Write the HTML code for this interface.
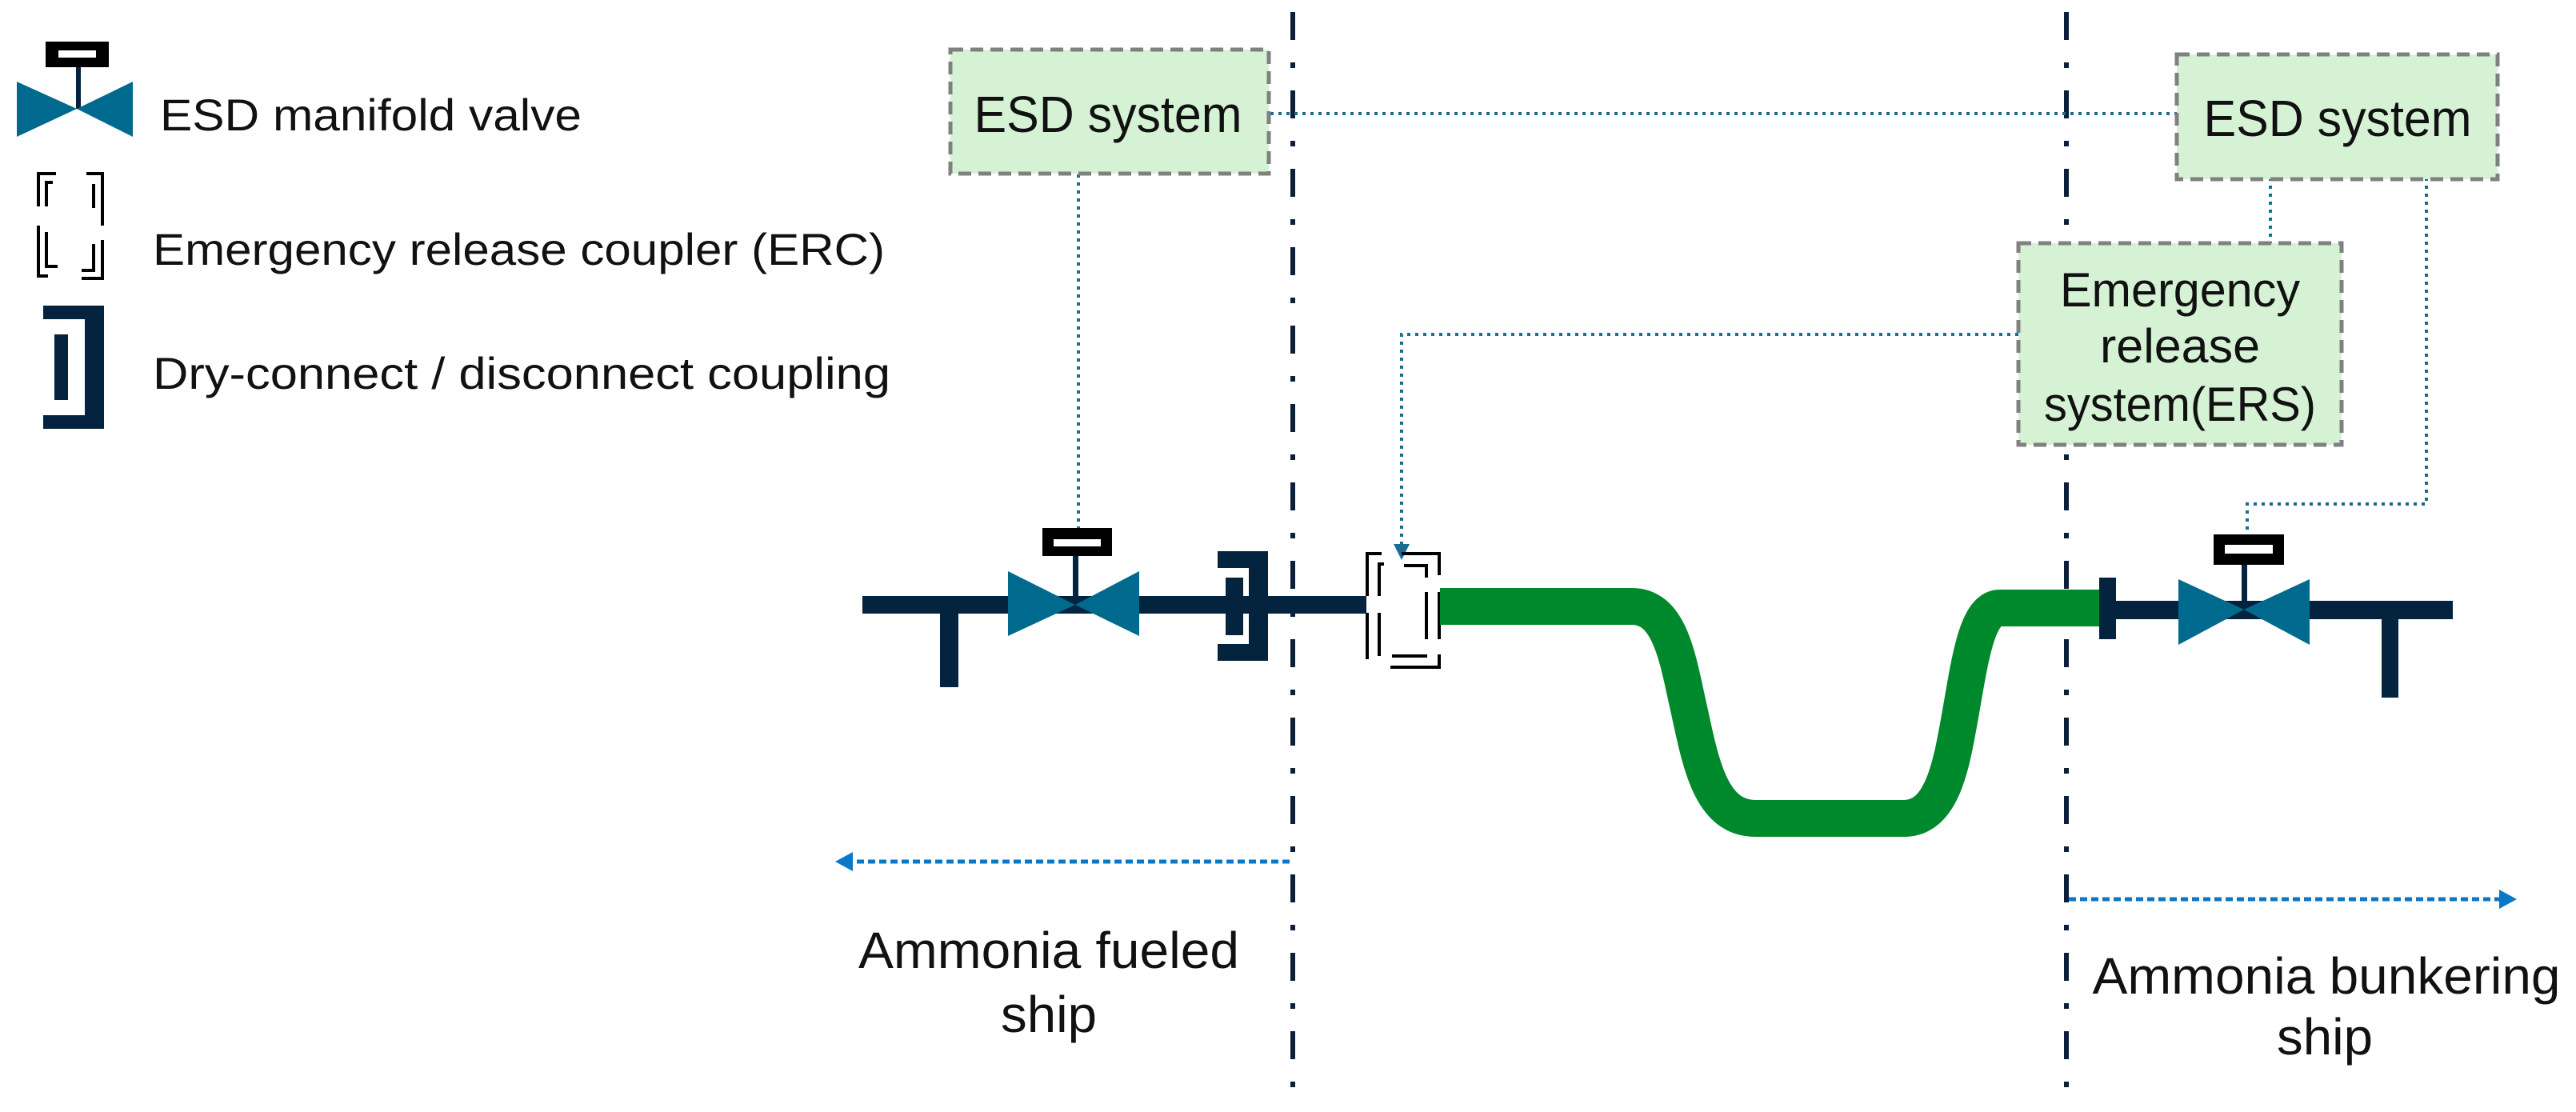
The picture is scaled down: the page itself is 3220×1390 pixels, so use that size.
<!DOCTYPE html>
<html><head><meta charset="utf-8"><style>
html,body{margin:0;padding:0;background:#fff;}
svg{display:block;}
text{font-family:"Liberation Sans",sans-serif;fill:#111;}
</style></head><body>
<svg width="3220" height="1390" viewBox="0 0 3220 1390" xmlns="http://www.w3.org/2000/svg">
<!-- dash-dot boundaries -->
<g stroke="#0b1f3a" stroke-width="6" fill="none" stroke-dasharray="35 28 7 28">
<line x1="1616" y1="15" x2="1616" y2="1360"/>
<line x1="2583" y1="15" x2="2583" y2="1360"/>
</g>

<!-- dotted control connectors -->
<g stroke="#1a6d94" stroke-width="4" fill="none" stroke-dasharray="4 6">
<line x1="1588" y1="142" x2="2721" y2="142"/>
<line x1="1348" y1="218" x2="1348" y2="660"/>
<line x1="2838" y1="222" x2="2838" y2="304"/>
<polyline points="3033,222 3033,630 2809,630 2809,668"/>
<polyline points="2523,418 1752,418 1752,686"/>
</g>
<polygon points="1742,680 1762,680 1752,700" fill="#1a6d94"/>

<!-- boxes -->
<g fill="#d5f2d5" stroke="#808080" stroke-width="5" stroke-dasharray="16 9">
<rect x="1188" y="62" width="398" height="155"/>
<rect x="2721" y="68" width="401" height="156"/>
<rect x="2523" y="304" width="404" height="252"/>
</g>
<text x="1385" y="165" font-size="64" text-anchor="middle" textLength="335" lengthAdjust="spacingAndGlyphs">ESD system</text>
<text x="2922" y="170" font-size="64" text-anchor="middle" textLength="335" lengthAdjust="spacingAndGlyphs">ESD system</text>
<text x="2725" y="383" font-size="60" text-anchor="middle" textLength="300" lengthAdjust="spacingAndGlyphs">Emergency</text>
<text x="2725" y="453" font-size="60" text-anchor="middle" textLength="200" lengthAdjust="spacingAndGlyphs">release</text>
<text x="2725" y="526" font-size="60" text-anchor="middle" textLength="340" lengthAdjust="spacingAndGlyphs">system(ERS)</text>

<!-- left pipe -->
<g fill="#04233f">
<rect x="1078" y="745" width="510" height="22"/>
<rect x="1175" y="745" width="23" height="114"/>
<rect x="1588" y="745" width="120" height="22"/>
<rect x="1522" y="689" width="63" height="21"/>
<rect x="1522" y="805" width="63" height="21"/>
<rect x="1561" y="689" width="24" height="137"/>
<rect x="1532" y="722" width="22" height="72"/>
<rect x="1341" y="690" width="7" height="66"/>
</g>
<polygon points="1260,714 1344,756 1260,795" fill="#006a8e"/>
<polygon points="1424,714 1344,756 1424,795" fill="#006a8e"/>
<rect x="1303" y="660" width="87" height="35" fill="#000"/>
<rect x="1317" y="674" width="59" height="9" fill="#fff"/>

<!-- ERC -->
<g stroke="#000" stroke-width="4" fill="none">
<polyline points="1727,692 1709,692 1709,745"/>
<line x1="1709" y1="766" x2="1709" y2="824"/>
<polyline points="1730,705 1724,705 1724,745"/>
<line x1="1724" y1="766" x2="1724" y2="820"/>
<polyline points="1752,692 1799,692 1799,719"/>
<polyline points="1755,707 1783,707 1783,722"/>
<line x1="1783" y1="740" x2="1783" y2="799"/>
<line x1="1799" y1="740" x2="1799" y2="799"/>
<polyline points="1738,834 1799,834 1799,818"/>
<line x1="1740" y1="820" x2="1784" y2="820"/>
</g>

<!-- hose -->
<path d="M1800 758 H2040 C2090 758 2098 830 2112 890 C2127 960 2140 1023 2195 1023 H2380 C2430 1023 2440 950 2451 890 C2463 820 2472 760 2500 760 H2626" fill="none" stroke="#00892c" stroke-width="46" stroke-linejoin="round"/>

<!-- right pipe -->
<g fill="#04233f">
<rect x="2624" y="722" width="21" height="77"/>
<rect x="2645" y="751" width="421" height="23"/>
<rect x="2977" y="751" width="21" height="121"/>
<rect x="2802" y="700" width="7" height="60"/>
</g>
<polygon points="2723,724 2805,762 2723,806" fill="#006a8e"/>
<polygon points="2887,724 2805,762 2887,806" fill="#006a8e"/>
<rect x="2767" y="668" width="88" height="38" fill="#000"/>
<rect x="2781" y="681" width="60" height="11" fill="#fff"/>

<!-- ship arrows -->
<g stroke="#0a78c8" stroke-width="5" stroke-dasharray="9 5" fill="none">
<line x1="1612" y1="1077" x2="1060" y2="1077"/>
<line x1="2586" y1="1124" x2="3128" y2="1124"/>
</g>
<polygon points="1044,1077 1066,1065 1066,1089" fill="#0a78c8"/>
<polygon points="3146,1124 3124,1112 3124,1136" fill="#0a78c8"/>

<text x="1311" y="1210" font-size="64" text-anchor="middle" textLength="476" lengthAdjust="spacingAndGlyphs">Ammonia fueled</text>
<text x="1311" y="1290" font-size="64" text-anchor="middle" textLength="120" lengthAdjust="spacingAndGlyphs">ship</text>
<text x="2908" y="1242" font-size="64" text-anchor="middle" textLength="585" lengthAdjust="spacingAndGlyphs">Ammonia bunkering</text>
<text x="2906" y="1318" font-size="64" text-anchor="middle" textLength="120" lengthAdjust="spacingAndGlyphs">ship</text>

<!-- legend -->
<rect x="57" y="52" width="79" height="32" fill="#000"/>
<rect x="73" y="63" width="47" height="9" fill="#fff"/>
<rect x="95" y="84" width="6" height="52" fill="#04233f"/>
<polygon points="21,102 96,136 21,171" fill="#006a8e"/>
<polygon points="166,102 96,136 166,171" fill="#006a8e"/>
<text x="200" y="163" font-size="56" textLength="527" lengthAdjust="spacingAndGlyphs">ESD manifold valve</text>

<g stroke="#000" stroke-width="4" fill="none">
<polyline points="70,217 48,217 48,258"/>
<polyline points="66,228 58,228 58,258"/>
<polyline points="108,217 128,217 128,282"/>
<line x1="117" y1="230" x2="117" y2="260"/>
<polyline points="48,282 48,345 60,345"/>
<polyline points="58,290 58,333 72,333"/>
<polyline points="102,348 128,348 128,300"/>
<polyline points="102,338 117,338 117,305"/>
</g>
<text x="191" y="331" font-size="56" textLength="915" lengthAdjust="spacingAndGlyphs">Emergency release coupler (ERC)</text>

<g fill="#04233f">
<rect x="54" y="382" width="76" height="17"/>
<rect x="54" y="519" width="76" height="17"/>
<rect x="106" y="382" width="24" height="154"/>
<rect x="68" y="418" width="17" height="82"/>
</g>
<text x="191" y="486" font-size="56" textLength="922" lengthAdjust="spacingAndGlyphs">Dry-connect / disconnect coupling</text>
</svg>
</body></html>
